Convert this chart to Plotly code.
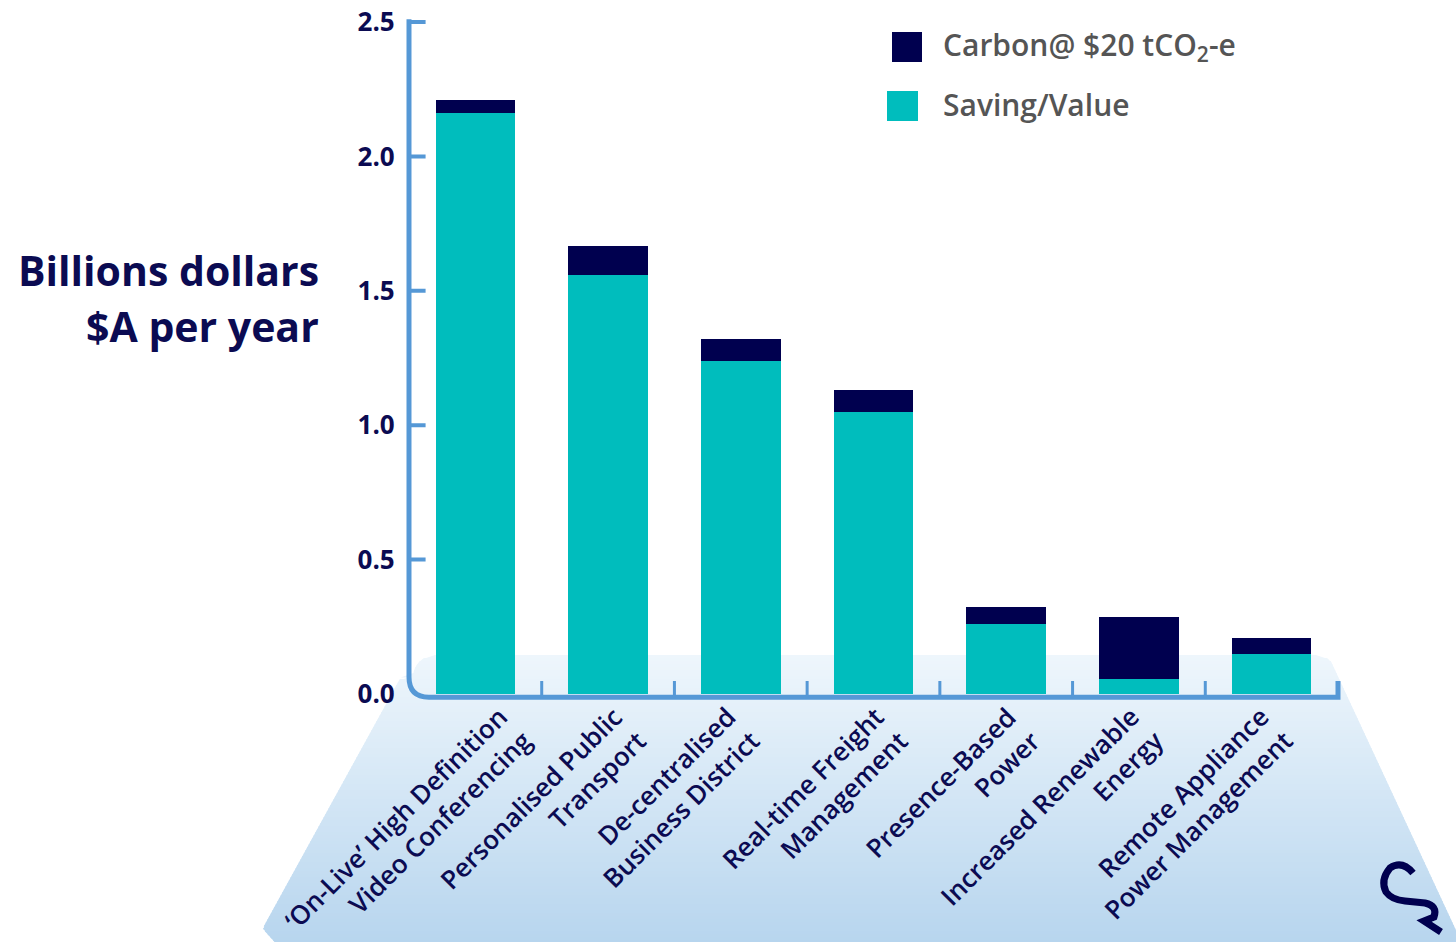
import plotly.graph_objects as go

W, H = 1456, 942

# ---- data -------------------------------------------------------------
categories = [
    "‘On-Live’ High Definition<br>Video Conferencing",
    "Personalised Public<br>Transport",
    "De-centralised<br>Business District",
    "Real-time Freight<br>Management",
    "Presence-Based<br>Power",
    "Increased Renewable<br>Energy",
    "Remote Appliance<br>Power Management",
]
saving_value = [2.16, 1.56, 1.24, 1.05, 0.26, 0.055, 0.15]
carbon_value = [0.05, 0.105, 0.08, 0.08, 0.065, 0.23, 0.058]
y_ticks = [0.0, 0.5, 1.0, 1.5, 2.0, 2.5]

series_names = ["Carbon@ $20 tCO<sub>2</sub>-e", "Saving/Value"]

# ---- styles -----------------------------------------------------------
TEAL = "#00bdbd"
NAVY = "#00004f"
AXIS_BLUE = "#5598d6"
TEXT_NAVY = "#0b0b52"
LEGEND_GREY = "#555555"
FONT = "Open Sans"
LABEL_SIZE = 26
# horizontal nudge (px) of each slanted category label, measured from the
# category centre to the end of its first line
label_dx = [33, 15, -4, 11, 11, 1, -2]
label_top = 5  # px below the baseline where the first line ends
label_fix = -17  # correction for the rotated box padding


def px(x):
    return x / W


def py(y):
    return 1 - y / H


x_idx = list(range(len(categories)))

fig = go.Figure()
fig.add_trace(go.Bar(x=x_idx, y=saving_value, name="Saving/Value",
                     marker=dict(color=TEAL, line=dict(width=0)), width=0.6,
                     showlegend=False))
fig.add_trace(go.Bar(x=x_idx, y=carbon_value, name="Carbon",
                     marker=dict(color=NAVY, line=dict(width=0)), width=0.6,
                     showlegend=False))

shapes = []

# light-blue floor under the category labels, shaded top to bottom
top_y, bot_y = 655, 942
r = 22.0
rb = 14.0


def left_edge(y):
    x = 413 - 0.55 * (y - top_y)
    if y < top_y + r:
        d = top_y + r - y
        x = max(x, 413 + r - (r * r - d * d) ** 0.5)
    if y > bot_y - rb:
        x = max(x, 262 + (y - (bot_y - rb)) * 0.9)
    return x


def right_edge(y):
    x = 1328 + 0.465 * (y - top_y)
    if y < top_y + r:
        d = top_y + r - y
        x = min(x, 1328 - r + (r * r - d * d) ** 0.5 + 10)
    return min(x, W + 2)


c0 = (238, 246, 252)
c1 = (183, 213, 238)
step = 3
y = top_y
while y < bot_y:
    y1 = min(y + step, bot_y)
    y1o = min(y1 + 1.5, bot_y + 2)
    t = (y - top_y) / (bot_y - top_y)
    col = tuple(round(c0[i] + (c1[i] - c0[i]) * t) for i in range(3))
    pts = [(left_edge(y), y), (right_edge(y), y),
           (right_edge(y1o), y1o), (left_edge(y1o), y1o)]
    path = "M " + " L ".join(f"{px(a):.5f},{py(b):.5f}" for a, b in pts) + " Z"
    shapes.append(dict(type="path", xref="paper", yref="paper", path=path,
                       fillcolor="rgb(%d,%d,%d)" % col, line=dict(width=0),
                       layer="below"))
    y = y1

# plot area geometry: the axis spines sit a little inside the axis ranges
# so that their full stroke width stays visible
y_top = y_ticks[-1]
x_left = -0.5
x_right = len(categories) - 0.5
x_pad, y_pad = 0.1, 0.06
x_unit = (1338 - 409) / (x_right - x_left)
y_unit = (694 - 22) / y_top

y_base = -0.012
cx, cy = 0.15, 0.075
shapes.append(dict(
    type="path", xref="x", yref="y",
    path=(f"M {x_left},{y_top + 0.01} L {x_left},{y_base + cy} "
          f"Q {x_left},{y_base} {x_left + cx},{y_base} "
          f"L {x_right},{y_base} L {x_right},{y_base + 0.06}"),
    line=dict(color=AXIS_BLUE, width=5), layer="above"))

# y tick marks pointing inward
for v in y_ticks[1:]:
    shapes.append(dict(type="line", xref="x", yref="y",
                       x0=x_left, x1=x_left + 0.125, y0=v, y1=v,
                       line=dict(color=AXIS_BLUE, width=4), layer="above"))
# x tick marks between categories
for k in range(len(categories) - 1):
    xb = k + 0.5
    shapes.append(dict(type="line", xref="x", yref="y",
                       x0=xb, x1=xb, y0=y_base, y1=y_base + 0.06,
                       line=dict(color=AXIS_BLUE, width=3), layer="above"))

# legend swatches
shapes.append(dict(type="rect", xref="paper", yref="paper",
                   x0=px(892), x1=px(922), y0=py(62), y1=py(32),
                   fillcolor=NAVY, line=dict(width=0)))
shapes.append(dict(type="rect", xref="paper", yref="paper",
                   x0=px(887), x1=px(918), y0=py(121), y1=py(91),
                   fillcolor=TEAL, line=dict(width=0)))

# corner logo mark
logo_pts = ("M 1413,873 Q 1402,860 1390,868 Q 1380,880 1386,892 "
            "Q 1392,900 1405,901 L 1425,903 Q 1438,906 1434,917 "
            "L 1424,921 L 1441,932")
out = []
for tkn in logo_pts.split():
    if "," in tkn:
        a, b = tkn.split(",")
        out.append(f"{px(float(a)):.5f},{py(float(b)):.5f}")
    else:
        out.append(tkn)
shapes.append(dict(type="path", xref="paper", yref="paper", path=" ".join(out),
                   line=dict(color=NAVY, width=7)))

annotations = [
    dict(text="<b>Billions dollars</b>", x=px(321), y=py(270), xref="paper",
         yref="paper", xanchor="right", yanchor="middle", showarrow=False,
         font=dict(family=FONT, size=41, color=TEXT_NAVY)),
    dict(text="<b>$A per year</b>", x=px(321), y=py(326), xref="paper",
         yref="paper", xanchor="right", yanchor="middle", showarrow=False,
         font=dict(family=FONT, size=41, color=TEXT_NAVY)),
    dict(text=series_names[0], x=px(941), y=py(46), xref="paper", yref="paper",
         xanchor="left", yanchor="middle", showarrow=False,
         font=dict(family=FONT, size=30, color=LEGEND_GREY, weight=600)),
    dict(text=series_names[1], x=px(941), y=py(105), xref="paper", yref="paper",
         xanchor="left", yanchor="middle", showarrow=False,
         font=dict(family=FONT, size=30, color=LEGEND_GREY, weight=600)),
]

# slanted category labels; the rotated box's right edge is the lower-right
# corner of the text block, so offset by the block height along the slant
block_h = 2 * 1.3 * LABEL_SIZE
for i, name in enumerate(categories):
    annotations.append(dict(
        text=name, x=x_idx[i], y=0, xref="x", yref="y",
        xanchor="right", yanchor="top", align="right", textangle=-45,
        showarrow=False, borderpad=0, borderwidth=0,
        xshift=label_dx[i] + 0.707 * block_h + label_fix, yshift=-label_top,
        font=dict(family=FONT, size=LABEL_SIZE, color=TEXT_NAVY, weight=600)))

fig.update_layout(
    width=W, height=H,
    margin=dict(l=0, r=0, t=0, b=0, autoexpand=False),
    paper_bgcolor="white", plot_bgcolor="rgba(0,0,0,0)",
    barmode="stack", bargap=0.4,
    showlegend=False,
    shapes=shapes, annotations=annotations,
    xaxis=dict(
        domain=[px(409 - x_pad * x_unit), px(1338 + x_pad * x_unit)],
        range=[x_left - x_pad, x_right + x_pad],
        tickmode="array", tickvals=x_idx, showticklabels=False,
        showgrid=False, zeroline=False, showline=False,
        ticks="", fixedrange=True, automargin=False,
    ),
    yaxis=dict(
        domain=[py(694 + y_pad * y_unit), py(22 - y_pad * y_unit)],
        range=[-y_pad, y_top + y_pad],
        tickmode="array", tickvals=y_ticks,
        ticktext=[f"{v:.1f}" for v in y_ticks],
        showgrid=False, zeroline=False, showline=False, ticks="",
        ticklabelstandoff=0, fixedrange=True, automargin=False,
        tickfont=dict(family=FONT, size=26, color=TEXT_NAVY, weight=700),
    ),
)

fig.write_html("out.html", config={"displayModeBar": False})
